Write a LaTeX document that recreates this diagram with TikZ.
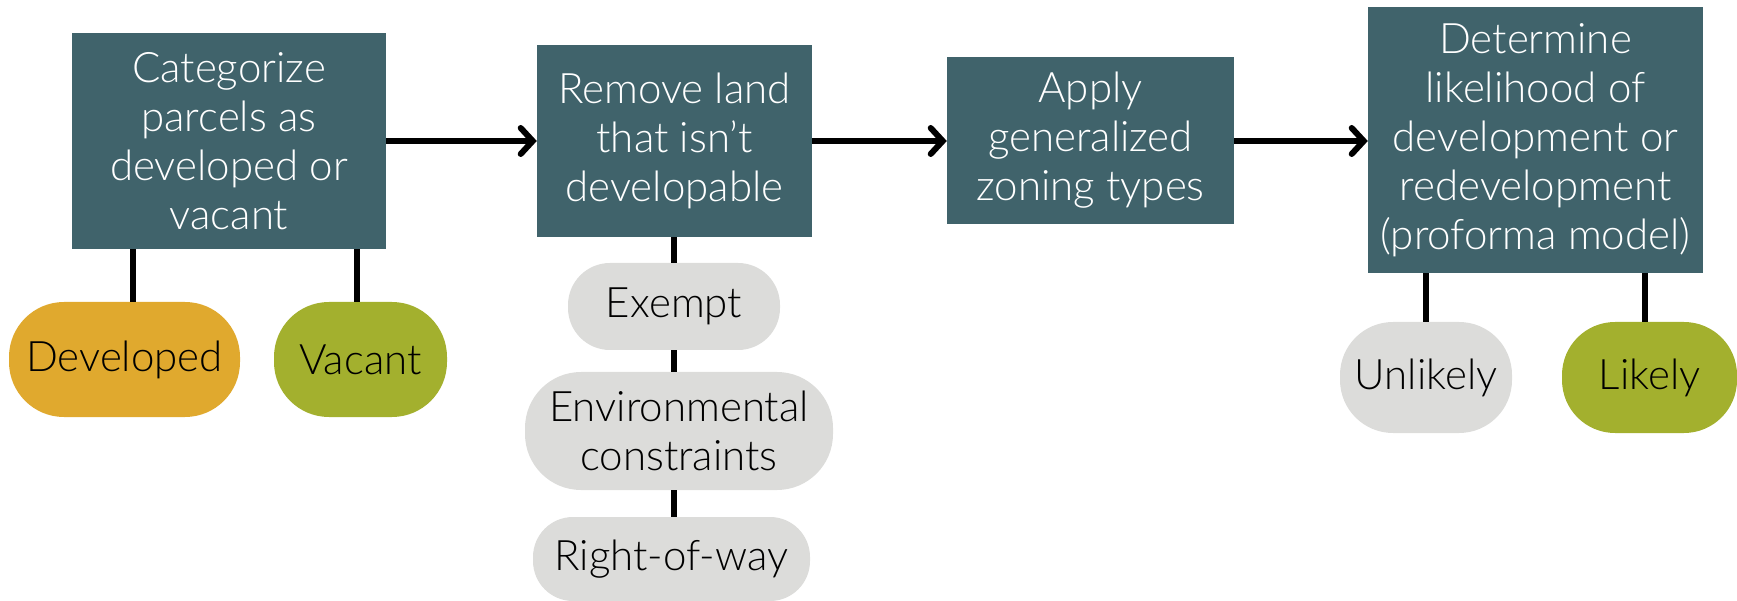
\documentclass[tikz,border=0pt]{standalone}
\usepackage{fontspec}
\setmainfont{Lato Light}
\usetikzlibrary{arrows.meta}
\definecolor{boxteal}{RGB}{64,99,107}
\definecolor{pillorange}{RGB}{224,169,46}
\definecolor{pillgreen}{RGB}{163,176,46}
\definecolor{pillgray}{RGB}{220,220,218}
\tikzset{
  stepbox/.style={fill=boxteal, text=white, inner sep=0pt, align=center,
    font=\fontsize{42}{49}\selectfont},
  pill/.style={inner sep=0pt, align=center, text=black,
    font=\fontsize{42}{49}\selectfont},
  flowarrow/.style={line width=6pt, -{Straight Barb[length=12pt,width=26pt,line width=6pt,line cap=round]}},
  link/.style={line width=6pt},
}
\begin{document}
\begin{tikzpicture}[x=1pt,y=-1pt]
\useasboundingbox (0,0) rectangle (1737,601);
% main boxes
\node[stepbox, minimum width=314pt, minimum height=216pt] (b1) at (229,141)
  {Categorize\\parcels as\\developed or\\vacant};
\node[stepbox, minimum width=275pt, minimum height=192pt] (b2) at (674.5,141)
  {Remove land\\that isn’t\\developable};
\node[stepbox, minimum width=287pt, minimum height=167pt] (b3) at (1090.5,140.5)
  {Apply\\generalized\\zoning types};
\node[stepbox, minimum width=335pt, minimum height=266pt] (b4) at (1535.5,140)
  {Determine\\likelihood of\\development or\\redevelopment\\(proforma model)};
% pills
\node[pill, fill=pillorange, rounded corners=55pt, minimum width=231pt, minimum height=115pt] (dev) at (124.5,359.5) {Developed};
\node[pill, fill=pillgreen, rounded corners=55pt, minimum width=173pt, minimum height=115pt] (vac) at (360.5,359.5) {Vacant};
\node[pill, fill=pillgray, rounded corners=42pt, minimum width=212pt, minimum height=87pt] (ex) at (674,306.5) {Exempt};
\node[pill, fill=pillgray, rounded corners=56pt, minimum width=308pt, minimum height=118pt] (env) at (679,431) {Environmental\\constraints};
\node[pill, fill=pillgray, rounded corners=40pt, minimum width=277pt, minimum height=84pt] (row) at (671.5,559) {Right-of-way};
\node[pill, fill=pillgray, rounded corners=53pt, minimum width=172pt, minimum height=111pt] (unl) at (1426,377.5) {Unlikely};
\node[pill, fill=pillgreen, rounded corners=53pt, minimum width=175pt, minimum height=111pt] (lik) at (1649.5,377.5) {Likely};
% arrows
\draw[flowarrow] (b1.east) -- (b2.west);
\draw[flowarrow] (b2.east) -- (b3.west |- b2.east);
\draw[flowarrow] (b3.east |- b2.east) -- (b4.west |- b2.east);
% links
\draw[link] (dev.north -| 133,0) -- (b1.south -| 133,0);
\draw[link] (vac.north -| 357,0) -- (b1.south -| 357,0);
\draw[link] (b2.south -| ex.north) -- (ex.north);
\draw[link] (ex.south) -- (env.north -| ex.south);
\draw[link] (env.south -| ex.south) -- (row.north -| ex.south);
\draw[link] (b4.south -| unl.north) -- (unl.north);
\draw[link] (b4.south -| 1645,0) -- (lik.north -| 1645,0);
\end{tikzpicture}
\end{document}
